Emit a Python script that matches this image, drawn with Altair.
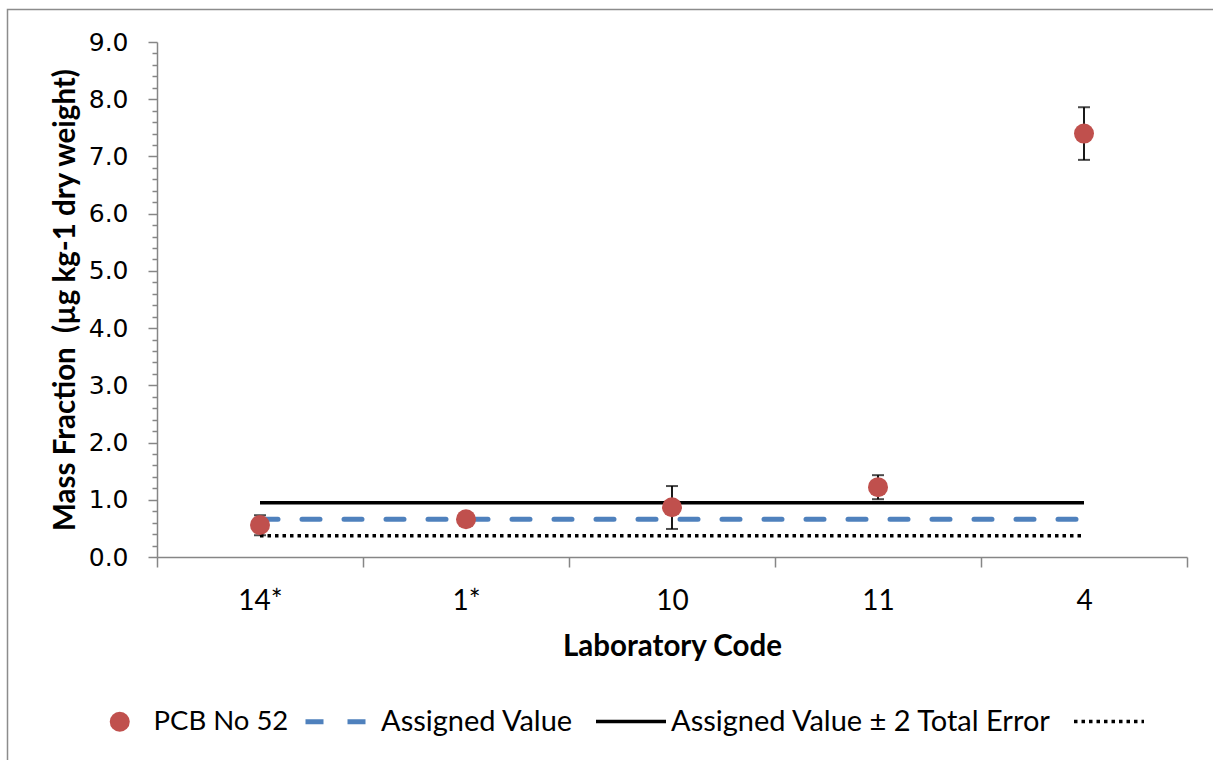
import altair as alt
import pandas as pd

# Laboratory codes along the category axis
labs = ["14*", "1*", "10", "11", "4"]
# Reported mass fractions (µg kg-1 dry weight) and their uncertainty limits
pcb52 = [0.56, 0.66, 0.87, 1.22, 7.40]
err_low = [0.38, None, 0.49, 1.01, 6.94]
err_high = [0.73, None, 1.24, 1.43, 7.86]
# Assigned value and its ± 2 total error band
assigned = [0.66, 0.66, 0.66, 0.66, 0.66]
upper = [0.95, 0.95, 0.95, 0.95, 0.95]
lower = [0.37, 0.37, 0.37, 0.37, 0.37]

S_PCB = "PCB No 52"
S_AV = "Assigned Value"
S_UP = "Assigned Value ± 2 Total Error"
S_LO = "Lower limit"
line_series = [S_AV, S_UP, S_LO]
line_colors = ["#4F81BD", "#000000", "#000000"]
line_widths = [5, 3.5, 3.5]
line_dashes = [[18, 24], [1, 0], [3.5, 4]]
PCB_RED = "#C0504D"

pts_df = pd.DataFrame({"lab": labs, "name": S_PCB, "value": pcb52})
err_df = pd.DataFrame({"lab": labs, "lo": err_low, "hi": err_high}).dropna()
lines_df = pd.concat([
    pd.DataFrame({"lab": labs, "series": S_AV, "value": assigned}),
    pd.DataFrame({"lab": labs, "series": S_UP, "value": upper}),
    pd.DataFrame({"lab": labs, "series": S_LO, "value": lower}),
])

AXIS_GREY = "#868686"
FONT = "Lato"
minor_ticks = [round(i * 0.2, 1) for i in range(46)]

x_enc = alt.X(
    "lab:N", sort=labs,
    scale=alt.Scale(type="band", paddingInner=0, paddingOuter=0),
    axis=alt.Axis(
        title="Laboratory Code", tickBand="extent", labelAngle=0,
        domainColor=AXIS_GREY, domainWidth=1.5, tickColor=AXIS_GREY,
        tickWidth=1.5, tickSize=10, labelFont=FONT, labelFontSize=28,
        labelColor="black", labelPadding=20, titleFont=FONT,
        titleFontSize=29.5, titleFontWeight="bold", titleColor="black",
        titlePadding=17,
    ),
)

y_scale = alt.Scale(domain=[0, 9], nice=False)
y_axis = alt.Axis(
    title="Mass Fraction\u00a0 (µg kg-1 dry weight)", values=minor_ticks,
    labelExpr="datum.value % 1 == 0 ? format(datum.value, '.1f') : ''",
    tickSize={"condition": {"test": "datum.value % 1 == 0", "value": 9}, "value": 5},
    grid=False, domainColor=AXIS_GREY, domainWidth=1.5, tickColor=AXIS_GREY,
    tickWidth=1.5, labelFont="DejaVu Sans", labelFontSize=25,
    labelColor="black", labelPadding=20, labelOverlap=False,
    titleFont=FONT, titleFontSize=29.5, titleFontWeight="bold",
    titleColor="black", titlePadding=8,
)

def y_of(field):
    return alt.Y(field, scale=y_scale, axis=y_axis)

# Legend for the measured results (circle marker)
pcb_legend = alt.Legend(
    title=None, orient="none", legendX=-51, legendY=666,
    symbolType="circle", symbolSize=400, symbolStrokeWidth=0,
    symbolOpacity=1, labelFont=FONT, labelFontSize=27.5, labelColor="black",
    labelLimit=0, labelOffset=20,
)
# Legend for the reference lines
line_legend = alt.Legend(
    title=None, orient="none", direction="horizontal", legendX=146,
    legendY=642, symbolType="stroke", symbolSize=4900, symbolOpacity=1,
    labelFont=FONT, labelFontSize=29, labelColor="black", labelLimit=0,
    labelOffset=3, columnPadding=15,
    labelExpr=f"datum.value === '{S_LO}' ? '' : datum.label",
)

stroke_enc = alt.Stroke(
    "series:N", scale=alt.Scale(domain=line_series, range=line_colors),
    legend=line_legend,
)
width_enc = alt.StrokeWidth(
    "series:N",
    scale=alt.Scale(type="ordinal", domain=line_series, range=line_widths),
    legend=line_legend,
)
dash_enc = alt.StrokeDash(
    "series:N", scale=alt.Scale(domain=line_series, range=line_dashes),
    legend=line_legend,
)

base_lines = alt.Chart(lines_df)
line_av = base_lines.transform_filter(alt.datum.series == S_AV).mark_line(
    strokeCap="round"
).encode(x=x_enc, y=y_of("value:Q"), stroke=stroke_enc, strokeDash=dash_enc,
         strokeWidth=width_enc)
line_up = base_lines.transform_filter(alt.datum.series == S_UP).mark_line().encode(
    x=x_enc, y=y_of("value:Q"), stroke=stroke_enc, strokeDash=dash_enc,
    strokeWidth=width_enc,
)
line_lo = base_lines.transform_filter(alt.datum.series == S_LO).mark_line().encode(
    x=x_enc, y=y_of("value:Q"), stroke=stroke_enc, strokeDash=dash_enc,
    strokeWidth=width_enc,
)

err_base = alt.Chart(err_df)
err_rule = err_base.mark_rule(color="black", strokeWidth=1.8).encode(
    x=x_enc, y=y_of("lo:Q"), y2="hi:Q"
)
err_cap_lo = err_base.mark_tick(color="black", size=12, thickness=2).encode(
    x=x_enc, y=y_of("lo:Q")
)
err_cap_hi = err_base.mark_tick(color="black", size=12, thickness=2).encode(
    x=x_enc, y=y_of("hi:Q")
)

points = alt.Chart(pts_df).mark_point(
    filled=True, shape="circle", size=400, opacity=1, strokeWidth=0
).encode(
    x=x_enc, y=y_of("value:Q"),
    fill=alt.Fill("name:N", scale=alt.Scale(domain=[S_PCB], range=[PCB_RED]),
                  legend=pcb_legend),
)

# Outer chart frame
frame = alt.Chart(alt.Data(values=[{"f": 1}])).mark_rect(
    fill="transparent", stroke="#8C8C8C", strokeWidth=1.5
).encode(
    x=alt.value(-149.5), x2=alt.value(1080),
    y=alt.value(-32.5), y2=alt.value(740),
)

chart = alt.layer(
    frame, line_av, line_up, line_lo, err_rule, err_cap_lo, err_cap_hi, points
).properties(
    width=1030, height=515,
    autosize=alt.AutoSizeParams(type="none"),
    padding={"left": 157, "top": 42, "right": 26, "bottom": 203},
    background="white",
).configure_view(stroke=None)

chart.save("out.html", embed_options={"renderer": "svg", "actions": False})
